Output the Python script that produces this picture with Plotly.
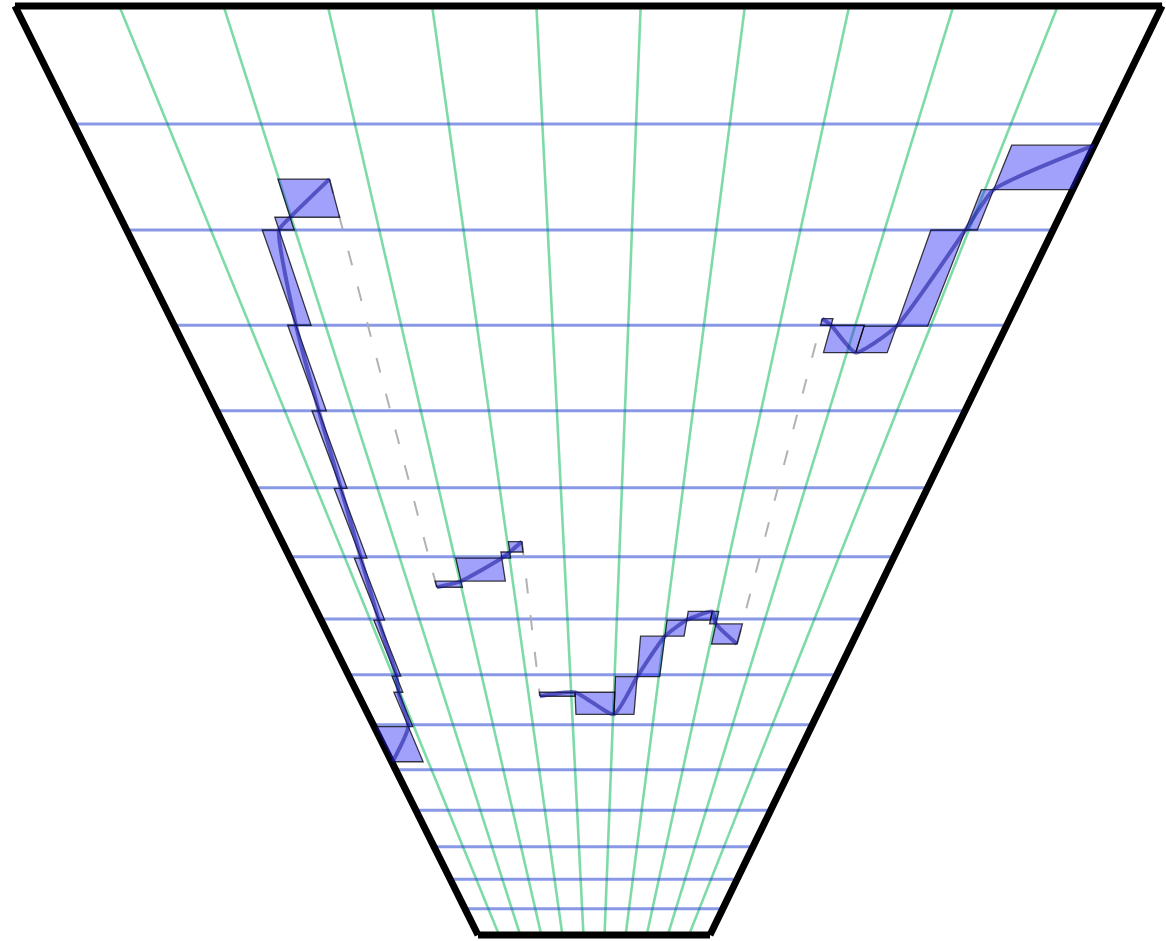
import plotly.graph_objects as go

# ---- carpet coordinate system -------------------------------------------
a_vals = list(range(12))          # a axis: 0 .. 11
b_vals = list(range(16))          # b axis: 0 .. 15
growth = 1.113                    # b-lines spread out geometrically
scale = 233.3


def level(b):
    return scale * (growth ** b - 1.0)


carpet_x, carpet_y = [], []
for b in b_vals:
    h = level(b)
    left = 478.0 - 0.4984 * h
    span = 232.0 + 0.985 * h
    carpet_x.append([left + span * a / 11.0 for a in a_vals])
    carpet_y.append([h for _ in a_vals])

# ---- series (a, b) ------------------------------------------------------
seg1_a = [0.03, 0.86, 0.97, 1.07, 1.17, 1.29, 1.40, 1.50, 1.61, 1.81, 1.99, 2.57]
seg1_b = [5.18, 5.96, 6.65, 6.97, 7.98, 8.98, 9.99, 11.0, 12.0, 13.0, 13.12, 13.48]

seg2_a = [2.53, 3.02, 3.86, 4.02, 4.26]
seg2_b = [8.51, 8.61, 8.98, 9.07, 9.22]

seg3_a = [4.26, 5.09, 6.02, 6.51, 7.02, 7.42, 7.90, 8.03, 8.57]
seg3_b = [6.57, 6.65, 6.21, 6.96, 7.69, 7.98, 8.12, 7.91, 7.55]

seg4_a = [8.54, 8.68, 9.12, 9.55, 9.96, 10.10, 11.0]
seg4_b = [12.07, 12.00, 11.68, 11.99, 13.0, 13.38, 13.80]

segments = [(seg1_a, seg1_b), (seg2_a, seg2_b), (seg3_a, seg3_b), (seg4_a, seg4_b)]

# ---- derived paths -----------------------------------------------------
# step boxes between consecutive points
box_a, box_b = [], []
for sa, sb in segments:
    for i in range(len(sa) - 1):
        a0, a1, b0, b1 = sa[i], sa[i + 1], sb[i], sb[i + 1]
        box_a += [a0, a1, a1, a0, a0, None]
        box_b += [b0, b0, b1, b1, b0, None]

# main line through all segments, broken between them
line_a, line_b = [], []
for sa, sb in segments:
    line_a += list(sa) + [None]
    line_b += list(sb) + [None]

# dashed connectors across the breaks
gap_a, gap_b = [], []
for (pa, pb), (na, nb) in zip(segments[:-1], segments[1:]):
    gap_a += [pa[-1], na[0], None]
    gap_b += [pb[-1], nb[0], None]

fig = go.Figure()

axis_common = dict(
    showticklabels="none",
    tickmode="linear",
    tick0=0,
    dtick=1,
    startline=True,
    endline=True,
    startlinewidth=7,
    endlinewidth=7,
    startlinecolor="black",
    endlinecolor="black",
    minorgridcount=0,
    title=dict(text=""),
    smoothing=0,
)

fig.add_trace(go.Carpet(
    a=a_vals,
    b=b_vals,
    x=carpet_x,
    y=carpet_y,
    carpet="c1",
    aaxis=dict(gridcolor="rgba(40,195,110,0.6)", gridwidth=2.6, **axis_common),
    baxis=dict(gridcolor="rgba(40,70,210,0.55)", gridwidth=3, **axis_common),
))

fig.add_trace(go.Scattercarpet(
    a=gap_a, b=gap_b, carpet="c1", mode="lines",
    line=dict(color="rgba(170,170,170,0.9)", width=2, dash="15px,22px"),
    hoverinfo="skip",
))

fig.add_trace(go.Scattercarpet(
    a=box_a, b=box_b, carpet="c1", mode="lines",
    fill="toself", fillcolor="rgba(30,30,245,0.42)",
    line=dict(color="rgba(0,0,0,0.75)", width=1.3),
    hoverinfo="skip",
))

fig.add_trace(go.Scattercarpet(
    a=line_a, b=line_b, carpet="c1", mode="lines",
    line=dict(color="rgba(20,20,150,0.55)", width=4, shape="spline", smoothing=0.5),
    hoverinfo="skip",
))

fig.update_layout(
    width=1166,
    height=941,
    autosize=False,
    margin=dict(l=0, r=0, t=0, b=0),
    paper_bgcolor="white",
    plot_bgcolor="white",
    showlegend=False,
    xaxis=dict(visible=False, range=[0, 1166]),
    yaxis=dict(visible=False, range=[-6, 935]),
)

fig.write_html("out.html")
